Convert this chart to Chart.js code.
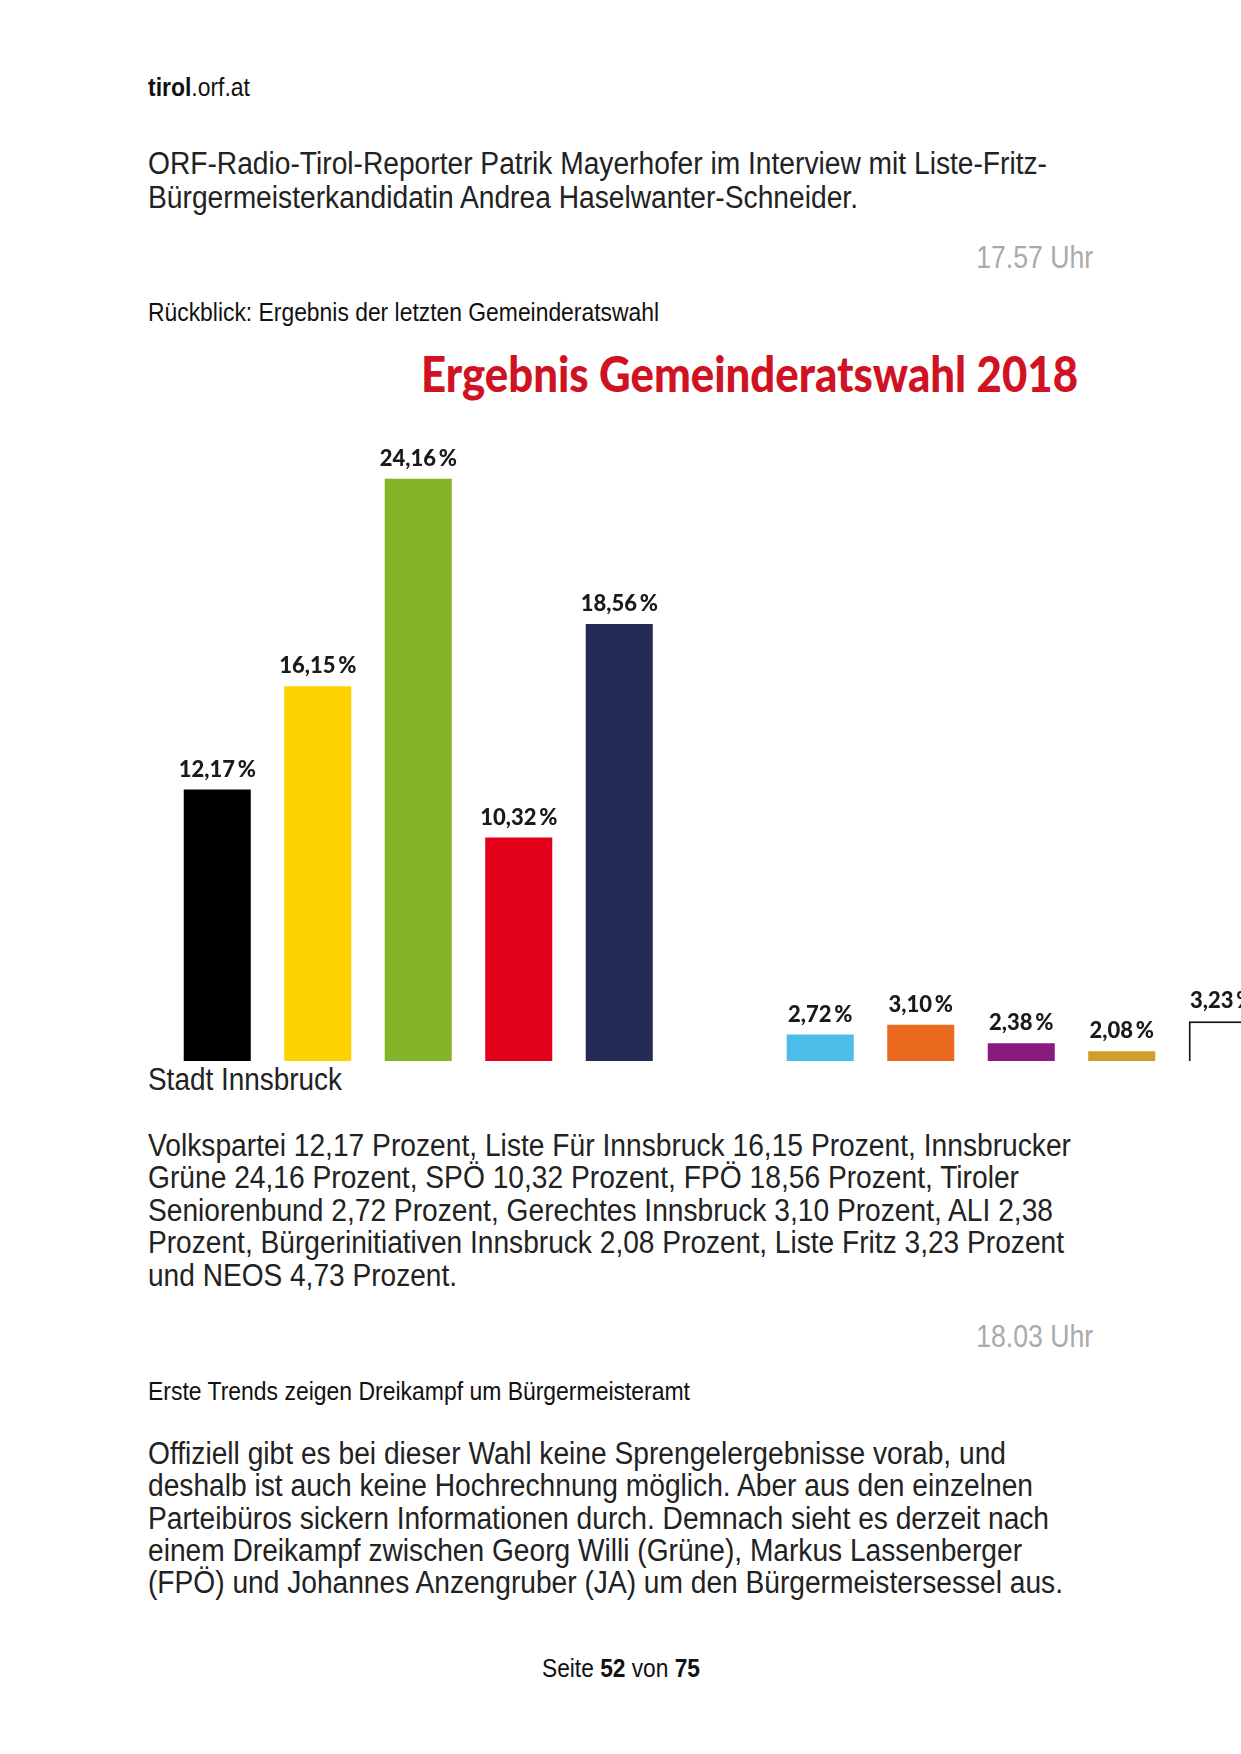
<!DOCTYPE html>
<html lang="de">
<head>
<meta charset="utf-8">
<script src="https://cdn.jsdelivr.net/npm/chart.js@4.4.1/dist/chart.umd.min.js"></script>
<style>
  html, body { margin: 0; padding: 0; background: #fff; }
  body { width: 1241px; height: 1754px; position: relative; overflow: hidden;
         font-family: "Liberation Sans", Arial, sans-serif; color: #222; }
  .ln { position: absolute; white-space: nowrap; transform-origin: left center; }
  .body { font-size: 31px; line-height: 32px; }
  .small { font-size: 25px; line-height: 28px; color: #111; }
  .time { font-size: 31px; line-height: 32px; color: #aaa; transform-origin: right center; }
  #title { font-family: Lato, "Open Sans", sans-serif; font-weight: 900; color: #cf1322;
           font-size: 50px; line-height: 56px; }
  #chartWrap { position: absolute; left: 167px; top: 431px; width: 1206px; height: 630px; }
</style>
</head>
<body>
<div class="ln small" style="left:148px;top:73px;" data-w="102"><b>tirol</b>.orf.at</div>

<div class="ln body" style="left:148px;top:148px;" data-w="899">ORF-Radio-Tirol-Reporter Patrik Mayerhofer im Interview mit Liste-Fritz-</div>
<div class="ln body" style="left:148px;top:182px;" data-w="710">Bürgermeisterkandidatin Andrea Haselwanter-Schneider.</div>

<div class="ln time" style="right:148px;top:242px;" data-w="117">17.57 Uhr</div>

<div class="ln small" style="left:148px;top:298px;" data-w="511">Rückblick: Ergebnis der letzten Gemeinderatswahl</div>

<div id="title" class="ln" style="left:421px;top:345px;" data-w="657">Ergebnis Gemeinderatswahl 2018</div>

<div id="chartWrap"><canvas id="resultChart" width="1206" height="630"></canvas></div>

<div class="ln body" style="left:148px;top:1064px;" data-w="194">Stadt Innsbruck</div>

<div class="ln body" style="left:148px;top:1130px;" data-w="923">Volkspartei 12,17 Prozent, Liste Für Innsbruck 16,15 Prozent, Innsbrucker</div>
<div class="ln body" style="left:148px;top:1162px;" data-w="871">Grüne 24,16 Prozent, SPÖ 10,32 Prozent, FPÖ 18,56 Prozent, Tiroler</div>
<div class="ln body" style="left:148px;top:1195px;" data-w="905">Seniorenbund 2,72 Prozent, Gerechtes Innsbruck 3,10 Prozent, ALI 2,38</div>
<div class="ln body" style="left:148px;top:1227px;" data-w="916">Prozent, Bürgerinitiativen Innsbruck 2,08 Prozent, Liste Fritz 3,23 Prozent</div>
<div class="ln body" style="left:148px;top:1260px;" data-w="309">und NEOS 4,73 Prozent.</div>

<div class="ln time" style="right:148px;top:1321px;" data-w="117">18.03 Uhr</div>

<div class="ln small" style="left:148px;top:1377px;" data-w="542">Erste Trends zeigen Dreikampf um Bürgermeisteramt</div>

<div class="ln body" style="left:148px;top:1438px;" data-w="858">Offiziell gibt es bei dieser Wahl keine Sprengelergebnisse vorab, und</div>
<div class="ln body" style="left:148px;top:1470px;" data-w="885">deshalb ist auch keine Hochrechnung möglich. Aber aus den einzelnen</div>
<div class="ln body" style="left:148px;top:1503px;" data-w="901">Parteibüros sickern Informationen durch. Demnach sieht es derzeit nach</div>
<div class="ln body" style="left:148px;top:1535px;" data-w="874">einem Dreikampf zwischen Georg Willi (Grüne), Markus Lassenberger</div>
<div class="ln body" style="left:148px;top:1567px;" data-w="915">(FPÖ) und Johannes Anzengruber (JA) um den Bürgermeistersessel aus.</div>

<div class="ln small" id="pageNo" style="left:542px;top:1654px;" data-w="158">Seite <b>52</b> von <b>75</b></div>

<script>
// Ergebnis Gemeinderatswahl Innsbruck 2018 (Prozent)
const parties = ["Volkspartei", "Für Innsbruck", "Grüne", "SPÖ", "FPÖ", "",
  "Seniorenbund", "Gerechtes Innsbruck", "ALI", "Bürgerinitiativen", "Liste Fritz", "NEOS"];
const shares = [12.17, 16.15, 24.16, 10.32, 18.56, null, 2.72, 3.10, 2.38, 2.08, 3.23, 4.73];
const partyColors = ["#000000", "#fcd200", "#84b529", "#e2001a", "#222a55", "#ffffff",
  "#4bbde9", "#ec6a1f", "#8b1a7e", "#cf9e2b", "#ffffff", "#e6007e"];
const partyBorders = [0, 0, 0, 0, 0, 0, 0, 0, 0, 0, 2, 0];

// fit each text line to the width it has in the page
document.querySelectorAll(".ln[data-w]").forEach((el) => {
  const target = Number(el.dataset.w);
  const natural = el.getBoundingClientRect().width;
  if (natural > 0) el.style.transform = `scaleX(${target / natural})`;
});

const fmtShare = (v) => v.toFixed(2).replace(".", ",") + "\u2009%";

const valueLabels = {
  id: "valueLabels",
  afterDatasetsDraw(chart) {
    const { ctx } = chart;
    const meta = chart.getDatasetMeta(0);
    ctx.save();
    ctx.font = "900 22px Lato, 'Open Sans', sans-serif";
    ctx.fillStyle = "#1a1a1a";
    ctx.textAlign = "center";
    ctx.textBaseline = "alphabetic";
    meta.data.forEach((bar, i) => {
      const v = shares[i];
      if (v == null) return;
      ctx.fillText(fmtShare(v), bar.x, bar.y - 13);
    });
    ctx.restore();
  },
};

new Chart(document.getElementById("resultChart"), {
  type: "bar",
  data: {
    labels: parties,
    datasets: [
      {
        data: shares,
        backgroundColor: partyColors,
        borderColor: "#111111",
        borderWidth: partyBorders,
        borderSkipped: "bottom",
        barPercentage: 0.667,
        categoryPercentage: 1,
      },
    ],
  },
  options: {
    responsive: false,
    animation: false,
    devicePixelRatio: 1,
    layout: { padding: 0 },
    plugins: { legend: { display: false }, tooltip: { enabled: false } },
    scales: {
      x: { display: false, offset: true },
      // the picture is cropped: its lower edge sits at about 1.7 %
      y: { display: false, min: 1.7, max: 26 },
    },
  },
  plugins: [valueLabels],
});
</script>
</body>
</html>
